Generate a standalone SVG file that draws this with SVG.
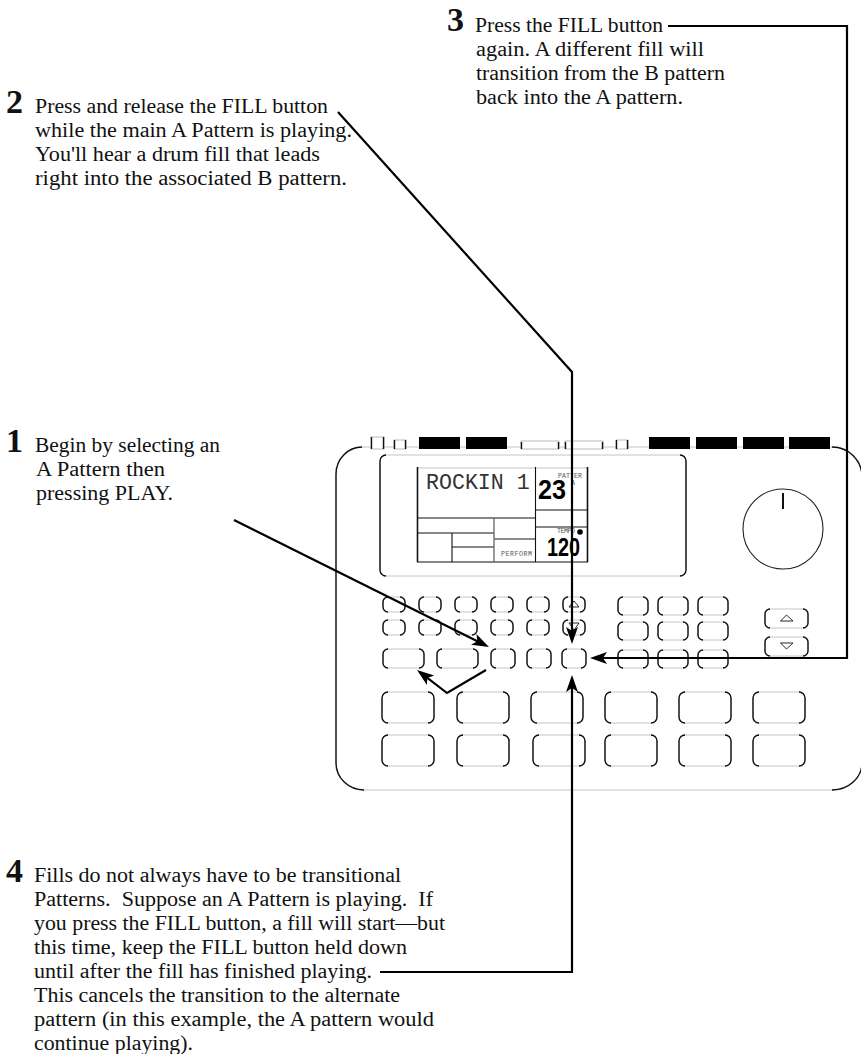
<svg xmlns="http://www.w3.org/2000/svg" width="861" height="1054" viewBox="0 0 861 1054">
<style>
text{font-family:"Liberation Serif","Times New Roman",serif;fill:#111}
.t{font-size:20px}
.n{font-size:34px;font-weight:bold}
.m{font-family:"Liberation Mono","Courier New",monospace;fill:#555;font-size:6.6px}
.lcd{font-family:"Liberation Sans",Arial,sans-serif;font-weight:bold;fill:#000}
.lt{fill:none;stroke:#c4c4c4;stroke-width:1}
.dk{fill:none;stroke:#111;stroke-width:1.4}
.ln{fill:none;stroke:#111;stroke-width:1.1}
.gr{fill:none;stroke:#666;stroke-width:1.3}
.tri{fill:none;stroke:#111;stroke-width:.9}
.cn{fill:none;stroke:#000;stroke-width:2.2}
</style>
<defs>
<marker id="ah" markerUnits="userSpaceOnUse" markerWidth="18" markerHeight="14" refX="13" refY="7" orient="auto" overflow="visible"><path d="M0 1L17 7L0 13L4 7z" fill="#000"/></marker>
<g id="bS"><rect class="lt" width="22" height="15" rx="5"/><path class="dk" d="M5 0A5 5 0 0 0 0 5V10A5 5 0 0 0 5 15M17 0A5 5 0 0 1 22 5V10A5 5 0 0 1 17 15"/></g>
<g id="bM"><rect class="lt" width="24" height="19" rx="5"/><path class="dk" d="M5 0A5 5 0 0 0 0 5V14A5 5 0 0 0 5 19M19 0A5 5 0 0 1 24 5V14A5 5 0 0 1 19 19"/></g>
<g id="bW"><rect class="lt" width="41" height="19" rx="5"/><path class="dk" d="M5 0A5 5 0 0 0 0 5V14A5 5 0 0 0 5 19M36 0A5 5 0 0 1 41 5V14A5 5 0 0 1 36 19"/></g>
<g id="bR"><rect class="lt" width="30" height="18" rx="5"/><path class="dk" d="M5 0A5 5 0 0 0 0 5V13A5 5 0 0 0 5 18M25 0A5 5 0 0 1 30 5V13A5 5 0 0 1 25 18"/></g>
<g id="bA"><rect class="lt" width="43" height="19" rx="5"/><path class="dk" d="M5 0A5 5 0 0 0 0 5V14A5 5 0 0 0 5 19M38 0A5 5 0 0 1 43 5V14A5 5 0 0 1 38 19"/></g>
<g id="pad"><rect class="lt" width="52" height="31" rx="6"/><path class="dk" d="M6 0A6 6 0 0 0 0 6V25A6 6 0 0 0 6 31M46 0A6 6 0 0 1 52 6V25A6 6 0 0 1 46 31"/></g>
</defs>
<rect width="861" height="1054" fill="#fff"/>

<g id="step3">
<text class="n" x="447" y="31">3</text>
<text class="t" x="475" y="32" textLength="188" lengthAdjust="spacingAndGlyphs">Press the FILL button</text>
<text class="t" x="476" y="56" textLength="228" lengthAdjust="spacingAndGlyphs">again.  A different fill will</text>
<text class="t" x="476" y="80" textLength="249" lengthAdjust="spacingAndGlyphs">transition from the B pattern</text>
<text class="t" x="476" y="104" textLength="207" lengthAdjust="spacingAndGlyphs">back into the A pattern.</text>
</g>
<g id="step2">
<text class="n" x="6" y="113">2</text>
<text class="t" x="35" y="113" textLength="293" lengthAdjust="spacingAndGlyphs">Press and release the FILL button</text>
<text class="t" x="35" y="137" textLength="317" lengthAdjust="spacingAndGlyphs">while the main A Pattern is playing.</text>
<text class="t" x="35" y="161" textLength="285" lengthAdjust="spacingAndGlyphs">You'll hear a drum fill that leads</text>
<text class="t" x="35" y="185" textLength="312" lengthAdjust="spacingAndGlyphs">right into the associated B pattern.</text>
</g>
<g id="step1">
<text class="n" x="6" y="452">1</text>
<text class="t" x="35" y="452" textLength="185" lengthAdjust="spacingAndGlyphs">Begin by selecting an</text>
<text class="t" x="36" y="476" textLength="129" lengthAdjust="spacingAndGlyphs">A Pattern then</text>
<text class="t" x="36" y="500" textLength="137" lengthAdjust="spacingAndGlyphs">pressing PLAY.</text>
</g>
<g id="step4">
<text class="n" x="6" y="882">4</text>
<text class="t" x="34" y="882" textLength="367" lengthAdjust="spacingAndGlyphs">Fills do not always have to be transitional</text>
<text class="t" x="34" y="906" textLength="399" lengthAdjust="spacingAndGlyphs" xml:space="preserve">Patterns.  Suppose an A Pattern is playing.  If</text>
<text class="t" x="34" y="930" textLength="411" lengthAdjust="spacingAndGlyphs">you press the FILL button, a fill will start—but</text>
<text class="t" x="34" y="954" textLength="373" lengthAdjust="spacingAndGlyphs">this time, keep the FILL button held down</text>
<text class="t" x="34" y="978" textLength="338" lengthAdjust="spacingAndGlyphs">until after the fill has finished playing.</text>
<text class="t" x="34" y="1002" textLength="366" lengthAdjust="spacingAndGlyphs">This cancels the transition to the alternate</text>
<text class="t" x="34" y="1026" textLength="400" lengthAdjust="spacingAndGlyphs">pattern (in this example, the A pattern would</text>
<text class="t" x="34" y="1050" textLength="159" lengthAdjust="spacingAndGlyphs">continue playing).</text>
</g>

<g id="device">
<rect class="lt" x="336" y="447" width="526" height="343" rx="28"/>
<path class="dk" d="M362 447A26 27 0 0 0 336 474V763A28 27 0 0 0 364 790M832 447A30 30 0 0 1 862 477V763A30 27 0 0 1 832 790"/>
<g id="top-controls">
<rect x="371" y="437" width="13" height="12" fill="#fff" stroke="#bbb"/><path class="dk" d="M371.500 437V449M383.500 437V449"/>
<rect x="394" y="440" width="12" height="9" fill="#fff" stroke="#bbb"/><path class="dk" d="M394.500 440V449M405.500 440V449"/>
<rect x="419" y="437" width="41" height="12" fill="#000"/>
<rect x="466" y="437" width="41" height="12" fill="#000"/>
<rect x="521" y="441" width="38" height="8" fill="#fff" stroke="#bbb"/><path class="dk" d="M521.500 442V449M558.500 442V449"/>
<rect x="565" y="441" width="38" height="8" fill="#fff" stroke="#bbb"/><path class="dk" d="M565.500 442V449M602.500 442V449"/>
<rect x="616" y="440" width="12" height="9" fill="#fff" stroke="#bbb"/><path class="dk" d="M616.500 440V449M627.500 440V449"/>
<rect x="649" y="437" width="41" height="12" fill="#000"/>
<rect x="696" y="437" width="41" height="12" fill="#000"/>
<rect x="743" y="437" width="41" height="12" fill="#000"/>
<rect x="789" y="437" width="41" height="12" fill="#000"/>
</g>
<g id="display">
<rect class="lt" x="380" y="455" width="306" height="121" rx="6"/>
<path class="dk" d="M386 455A6 6 0 0 0 380 461V570A6 6 0 0 0 386 576M680 455A6 6 0 0 1 686 461V570A6 6 0 0 1 680 576"/>
<path class="lt" d="M417 468H588"/>
<path d="M417.500 467V562M587.500 467V562" fill="none" stroke="#111" stroke-width="1.600"/>
<path class="ln" d="M417 562H588M535.500 467V562M417 518H535M417 533H494M452 533V562M452 547H494M535 510H588M535 527H588"/>
<path class="gr" d="M494 518V562M494 539H535"/>
<text x="426" y="489" font-size="21.600" style="font-family:'Liberation Mono','Courier New',monospace;fill:#333">ROCKIN 1</text>
<text class="m" x="558" y="478" textLength="24">PATTER</text>
<text class="m" x="571" y="485">A</text>
<text class="m" x="557" y="533" textLength="18">TEMPO</text>
<circle cx="580" cy="532" r="2.800" fill="#000"/>
<text class="m" x="501" y="556" textLength="31">PERFORM</text>
<text class="lcd" x="538" y="499" font-size="27" textLength="28" lengthAdjust="spacingAndGlyphs">23</text>
<text class="lcd" x="547" y="556" font-size="26" textLength="33" lengthAdjust="spacingAndGlyphs">120</text>
</g>
<g id="knob"><circle cx="783" cy="529" r="40" fill="none" stroke="#222" stroke-width="1.100"/><path d="M783 493V509" stroke="#111" stroke-width="2"/></g>
<g id="buttons">
<use href="#bS" x="383" y="597"/><use href="#bS" x="419" y="597"/><use href="#bS" x="455" y="597"/><use href="#bS" x="491" y="597"/><use href="#bS" x="527" y="597"/><use href="#bS" x="563" y="597"/>
<use href="#bS" x="383" y="620"/><use href="#bS" x="419" y="620"/><use href="#bS" x="455" y="620"/><use href="#bS" x="491" y="620"/><use href="#bS" x="527" y="620"/><use href="#bS" x="563" y="620"/>
<path class="tri" d="M569 607L574 601L579 607zM569 623H579L574 630z"/>
<use href="#bW" x="383" y="649"/><use href="#bW" x="437" y="649"/><use href="#bM" x="491" y="649"/><use href="#bM" x="527" y="649"/><use href="#bM" x="562" y="649"/>
<use href="#bR" x="618" y="597"/><use href="#bR" x="658" y="597"/><use href="#bR" x="698" y="597"/>
<use href="#bR" x="618" y="622"/><use href="#bR" x="658" y="622"/><use href="#bR" x="698" y="622"/>
<use href="#bR" x="618" y="650"/><use href="#bR" x="658" y="650"/><use href="#bR" x="698" y="650"/>
<use href="#bA" x="765" y="609"/><use href="#bA" x="765" y="637"/>
<path class="tri" d="M780.500 621L786.500 615L793 621zM780.500 643H793L786.500 649z"/>
<use href="#pad" x="382" y="692"/><use href="#pad" x="457" y="692"/><use href="#pad" x="531" y="692"/><use href="#pad" x="605" y="692"/><use href="#pad" x="679" y="692"/><use href="#pad" x="753" y="692"/>
<use href="#pad" x="382" y="735"/><use href="#pad" x="457" y="735"/><use href="#pad" x="533" y="735"/><use href="#pad" x="605" y="735"/><use href="#pad" x="679" y="735"/><use href="#pad" x="753" y="735"/>
</g>
</g>

<g id="connectors">
<path class="cn" d="M668 26H847V658H594" marker-end="url(#ah)"/>
<path class="cn" d="M338 112L572 372V640" marker-end="url(#ah)"/>
<path class="cn" d="M234 520L485.400 645.200" marker-end="url(#ah)"/>
<path class="cn" d="M486 670L447 693L420.200 672.400" marker-end="url(#ah)"/>
<path class="cn" d="M380 972H572V679" marker-end="url(#ah)"/>
</g>
</svg>
